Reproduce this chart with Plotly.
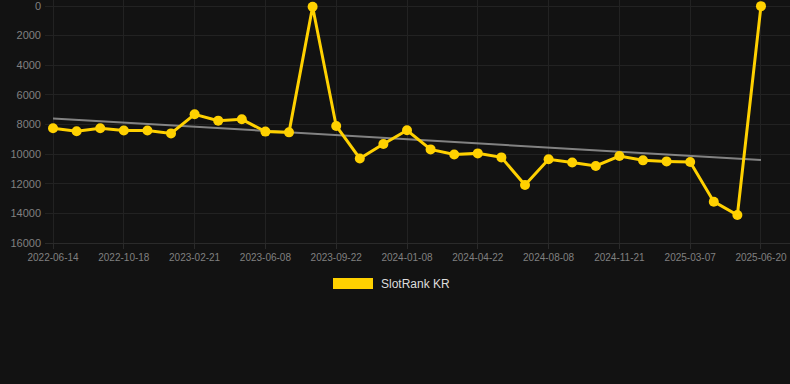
import numpy as np
import plotly.graph_objects as go

dates = [
    "2022-06-14", "2022-07-26", "2022-09-06", "2022-10-18", "2022-11-29", "2023-01-10",
    "2023-02-21", "2023-03-28", "2023-05-03", "2023-06-08", "2023-07-14", "2023-08-17",
    "2023-09-22", "2023-10-27", "2023-12-02", "2024-01-08", "2024-02-12", "2024-03-18",
    "2024-04-22", "2024-05-28", "2024-07-03", "2024-08-08", "2024-09-12", "2024-10-17",
    "2024-11-21", "2024-12-26", "2025-01-30", "2025-03-07", "2025-04-11", "2025-05-16",
    "2025-06-20",
]
rank_kr = [
    8250, 8450, 8250, 8400, 8400, 8600,
    7310, 7740, 7650, 8480, 8530, 50,
    8100, 10290, 9320, 8390, 9680, 10020,
    9950, 10220, 12090, 10350, 10560, 10800,
    10130, 10420, 10490, 10530, 13210, 14110,
    10,
]
tick_labels = dates[::3]
y_ticks = [0, 2000, 4000, 6000, 8000, 10000, 12000, 14000, 16000]
y_tick_text = [str(v) for v in y_ticks]
series_name = "SlotRank KR"

idx = np.arange(len(dates))
slope, intercept = np.polyfit(idx, rank_kr, 1)
trend = slope * idx + intercept

GOLD = "#FFD100"
fig = go.Figure()
fig.add_trace(go.Scatter(
    x=dates, y=trend.tolist(), mode="lines",
    line=dict(color="rgba(150,150,150,0.85)", width=2),
    showlegend=False, hoverinfo="skip", cliponaxis=False,
))
fig.add_trace(go.Scatter(
    x=dates, y=rank_kr, mode="lines+markers", name=series_name,
    line=dict(color=GOLD, width=3),
    marker=dict(color=GOLD, size=10),
    showlegend=False, cliponaxis=False,
))

fig.add_shape(type="rect", xref="paper", yref="paper",
              x0=(333 - 45) / 745, x1=(373 - 45) / 745,
              y0=(243 - 289) / 243, y1=(243 - 278) / 243,
              fillcolor=GOLD, line=dict(width=0))
fig.add_annotation(xref="paper", yref="paper", x=(379 - 45) / 745, y=(243 - 284) / 243,
                   text=series_name, showarrow=False, xanchor="left", yanchor="middle",
                   font=dict(size=12, color="#dddddd", family="Liberation Sans, Arial, sans-serif"))

fig.update_layout(
    width=790, height=384,
    margin=dict(l=45, r=0, t=0, b=141),
    paper_bgcolor="#121212", plot_bgcolor="#121212",
    font=dict(family="Liberation Sans, Arial, sans-serif", color="#808080"),
    showlegend=False,
)
fig.update_xaxes(
    type="category", categoryorder="array", categoryarray=dates,
    range=[-0.34, 31.23],
    tickmode="array", tickvals=tick_labels, ticktext=tick_labels,
    tickfont=dict(size=10, color="#808080"),
    showgrid=True, gridcolor="#222222", gridwidth=1,
    ticks="outside", ticklen=5, tickcolor="#2a2a2a",
    showline=True, linecolor="#2a2a2a", zeroline=False,
    ticklabeloverflow="allow",
)
fig.update_yaxes(
    range=[16000, -405],
    tickmode="array", tickvals=y_ticks, ticktext=y_tick_text,
    tickfont=dict(size=11, color="#808080"),
    showgrid=True, gridcolor="#222222", gridwidth=1,
    zeroline=False, ticks="", ticklabelstandoff=3,
    ticklabeloverflow="allow",
)

fig.write_html(
    "out.html",
    config={"displayModeBar": False},
    post_script="document.body.style.margin='0';document.body.style.background='#121212';document.body.style.overflow='hidden';",
)
